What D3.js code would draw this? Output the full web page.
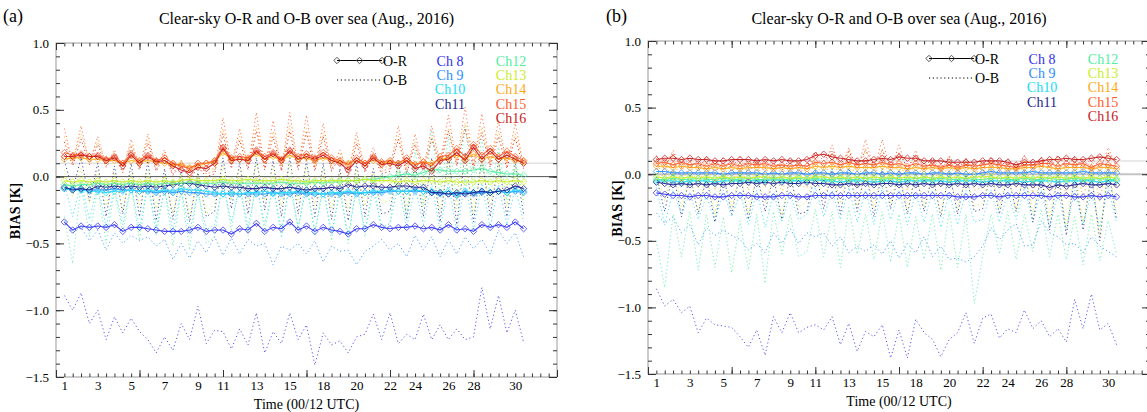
<!DOCTYPE html>
<html>
<head>
<meta charset="utf-8">
<script src="https://cdn.jsdelivr.net/npm/d3@7"></script>
<style>
body { margin: 0; background: #fff; }
svg { display: block; }
text { font-family: "Liberation Serif", "Times New Roman", serif; }
</style>
</head>
<body>
<div id="chart"></div>
<script>
let width = 1147
let height = 412

// x positions: 56 analysis times (00/12 UTC), some days missing
let timeIndex = d3.range(56)
let tickIndex = [0, 4, 8, 12, 16, 19, 23, 27, 31, 35, 39, 42, 46, 49, 54]
let tickLabels = ["1", "3", "5", "7", "9", "11", "13", "15", "18", "20", "22", "24", "26", "28", "30"]
let yTicks = [-1.5, -1.0, -0.5, 0.0, 0.5, 1.0]

let channels = ["Ch 8", "Ch 9", "Ch10", "Ch11", "Ch12", "Ch13", "Ch14", "Ch15", "Ch16"]
let channelColors = ["#3030f0", "#2a8cff", "#20dcf8", "#1c1c8c", "#50eea0", "#c8ee28", "#ffa812", "#ff5828", "#c81818"]

// ---- panel (a): O-R ----
let a_or_8 = [-0.34,-0.40,-0.37,-0.38,-0.37,-0.38,-0.36,-0.41,-0.38,-0.38,
	-0.39,-0.40,-0.41,-0.41,-0.41,-0.40,-0.38,-0.41,-0.40,-0.40,
	-0.43,-0.39,-0.40,-0.35,-0.41,-0.38,-0.39,-0.34,-0.40,-0.37,
	-0.41,-0.38,-0.40,-0.41,-0.43,-0.39,-0.39,-0.36,-0.38,-0.39,
	-0.38,-0.38,-0.37,-0.39,-0.38,-0.40,-0.36,-0.40,-0.39,-0.41,
	-0.36,-0.38,-0.36,-0.38,-0.34,-0.39]
let a_or_9 = [-0.09,-0.09,-0.10,-0.10,-0.10,-0.10,-0.09,-0.10,-0.10,-0.11,
	-0.11,-0.12,-0.11,-0.12,-0.11,-0.12,-0.12,-0.13,-0.13,-0.13,
	-0.13,-0.13,-0.13,-0.13,-0.13,-0.12,-0.13,-0.13,-0.12,-0.13,
	-0.13,-0.13,-0.13,-0.13,-0.12,-0.13,-0.12,-0.12,-0.12,-0.11,
	-0.11,-0.11,-0.11,-0.11,-0.12,-0.13,-0.13,-0.14,-0.12,-0.13,
	-0.12,-0.12,-0.11,-0.12,-0.11,-0.12]
let a_or_10 = [-0.09,-0.10,-0.10,-0.11,-0.11,-0.12,-0.11,-0.11,-0.10,-0.11,
	-0.10,-0.11,-0.10,-0.11,-0.09,-0.10,-0.10,-0.11,-0.12,-0.13,
	-0.12,-0.13,-0.12,-0.12,-0.11,-0.13,-0.12,-0.12,-0.11,-0.12,
	-0.12,-0.13,-0.12,-0.12,-0.11,-0.12,-0.12,-0.11,-0.11,-0.10,
	-0.11,-0.11,-0.10,-0.11,-0.11,-0.12,-0.11,-0.13,-0.11,-0.12,
	-0.11,-0.12,-0.11,-0.12,-0.10,-0.11]
let a_or_11 = [-0.08,-0.10,-0.09,-0.10,-0.07,-0.08,-0.07,-0.08,-0.07,-0.08,
	-0.07,-0.08,-0.07,-0.06,-0.05,-0.05,-0.06,-0.07,-0.08,-0.07,
	-0.08,-0.08,-0.09,-0.09,-0.08,-0.09,-0.09,-0.08,-0.09,-0.10,
	-0.09,-0.09,-0.08,-0.09,-0.06,-0.08,-0.07,-0.07,-0.08,-0.08,
	-0.07,-0.07,-0.08,-0.08,-0.12,-0.12,-0.13,-0.12,-0.13,-0.12,
	-0.11,-0.12,-0.11,-0.10,-0.07,-0.09]
let a_or_12 = [-0.06,-0.07,-0.06,-0.06,-0.05,-0.06,-0.05,-0.06,-0.05,-0.06,
	-0.05,-0.06,-0.05,-0.05,-0.05,-0.04,-0.05,-0.05,-0.05,-0.04,
	-0.05,-0.05,-0.05,-0.05,-0.05,-0.05,-0.04,-0.05,-0.05,-0.05,
	-0.04,-0.05,-0.04,-0.04,-0.03,-0.03,-0.02,-0.02,-0.01,0.00,
	0.01,0.02,0.01,0.03,0.05,0.05,0.04,0.04,0.04,0.05,
	0.06,0.04,0.03,0.02,0.02,0.01]
let a_or_13 = [-0.03,-0.04,-0.03,-0.04,-0.03,-0.04,-0.03,-0.04,-0.03,-0.04,
	-0.03,-0.04,-0.03,-0.04,-0.03,-0.02,-0.03,-0.03,-0.03,-0.02,
	-0.03,-0.03,-0.02,-0.03,-0.03,-0.03,-0.02,-0.03,-0.03,-0.04,
	-0.03,-0.03,-0.03,-0.03,-0.03,-0.03,-0.02,-0.03,-0.03,-0.03,
	-0.04,-0.03,-0.04,-0.03,-0.03,-0.04,-0.03,-0.04,-0.04,-0.04,
	-0.03,-0.04,-0.03,-0.04,-0.03,-0.04]
let a_or_14 = [0.13,0.14,0.14,0.13,0.13,0.12,0.12,0.10,0.12,0.11,
	0.12,0.11,0.10,0.09,0.09,0.07,0.08,0.10,0.11,0.18,
	0.13,0.13,0.13,0.17,0.13,0.15,0.12,0.16,0.13,0.14,
	0.12,0.14,0.12,0.11,0.10,0.12,0.10,0.12,0.10,0.11,
	0.10,0.12,0.09,0.11,0.10,0.13,0.14,0.16,0.13,0.17,
	0.13,0.15,0.13,0.14,0.12,0.11]
let a_or_15 = [0.18,0.16,0.17,0.15,0.16,0.13,0.15,0.10,0.17,0.12,
	0.16,0.12,0.14,0.10,0.08,0.06,0.10,0.10,0.12,0.22,
	0.14,0.15,0.14,0.20,0.15,0.18,0.13,0.20,0.15,0.17,
	0.14,0.18,0.14,0.12,0.09,0.14,0.10,0.15,0.11,0.12,
	0.10,0.14,0.09,0.11,0.08,0.15,0.16,0.21,0.15,0.24,
	0.16,0.21,0.15,0.19,0.15,0.12]
let a_or_16 = [0.15,0.15,0.16,0.15,0.15,0.12,0.14,0.08,0.16,0.10,
	0.15,0.11,0.12,0.08,0.05,0.03,0.07,0.06,0.10,0.21,
	0.12,0.13,0.12,0.19,0.13,0.17,0.12,0.19,0.13,0.15,
	0.13,0.16,0.12,0.10,0.05,0.12,0.08,0.14,0.09,0.10,
	0.08,0.12,0.06,0.08,0.04,0.12,0.13,0.18,0.12,0.22,
	0.13,0.19,0.13,0.16,0.13,0.10]

// ---- panel (a): O-B ----
let a_ob_8 = [-0.89,-1.00,-0.87,-1.10,-1.00,-1.22,-1.05,-1.17,-1.06,-1.16,
	-1.22,-1.32,-1.20,-1.30,-1.10,-1.22,-0.97,-1.25,-1.15,-1.16,
	-1.29,-1.14,-1.26,-1.02,-1.32,-1.16,-1.25,-1.02,-1.22,-1.11,
	-1.41,-1.17,-1.26,-1.23,-1.32,-1.20,-1.18,-1.03,-1.22,-1.02,
	-1.25,-1.18,-1.22,-1.03,-1.22,-1.11,-1.22,-1.14,-1.22,-1.20,
	-0.83,-1.14,-0.89,-1.17,-1.00,-1.24]
let a_ob_9 = [-0.33,-0.42,-0.38,-0.48,-0.40,-0.55,-0.42,-0.50,-0.44,-0.48,
	-0.45,-0.52,-0.47,-0.62,-0.50,-0.61,-0.48,-0.57,-0.45,-0.59,
	-0.46,-0.58,-0.47,-0.52,-0.50,-0.66,-0.52,-0.55,-0.50,-0.58,
	-0.48,-0.64,-0.52,-0.56,-0.55,-0.66,-0.56,-0.52,-0.47,-0.55,
	-0.50,-0.60,-0.44,-0.55,-0.45,-0.60,-0.47,-0.58,-0.45,-0.54,
	-0.47,-0.58,-0.40,-0.50,-0.42,-0.60]
let a_ob_10 = [-0.05,-0.30,-0.04,-0.32,-0.06,-0.38,-0.08,-0.36,-0.06,-0.40,
	-0.05,-0.38,-0.10,-0.40,-0.10,-0.42,-0.12,-0.40,-0.36,-0.05,
	-0.34,-0.08,-0.38,-0.06,-0.36,-0.08,-0.40,-0.06,-0.38,-0.08,
	-0.40,-0.10,-0.42,-0.12,-0.44,-0.08,-0.40,-0.10,-0.38,-0.35,
	-0.06,-0.38,-0.08,-0.36,-0.05,-0.40,-0.04,-0.42,-0.02,-0.40,
	-0.05,-0.38,-0.06,-0.36,-0.08,-0.34]
let a_ob_11 = [0.12,-0.10,0.14,-0.18,0.10,-0.30,0.08,-0.28,0.10,-0.30,
	0.12,-0.33,0.06,-0.32,0.04,-0.34,0.03,-0.30,-0.26,0.14,
	-0.24,0.10,-0.28,0.14,-0.25,0.12,-0.30,0.14,-0.28,0.12,
	-0.30,0.10,-0.32,0.06,-0.33,0.10,-0.30,0.06,-0.28,-0.26,
	0.12,-0.32,0.10,-0.30,0.14,-0.34,0.16,-0.36,0.18,-0.34,
	0.14,-0.30,0.12,-0.30,0.10,-0.28]
let a_ob_12 = [-0.30,-0.65,-0.05,-0.45,-0.08,-0.50,-0.10,-0.42,-0.06,-0.48,
	-0.04,-0.44,-0.08,-0.52,-0.10,-0.55,-0.08,-0.50,-0.45,-0.02,
	-0.40,-0.04,-0.44,-0.02,-0.42,-0.04,-0.46,0.00,-0.40,-0.02,
	-0.44,-0.04,-0.48,-0.06,-0.50,-0.02,-0.45,-0.04,-0.40,-0.35,
	0.12,-0.30,0.20,-0.20,0.35,-0.15,0.30,-0.18,0.38,-0.12,
	0.28,-0.15,0.22,-0.18,0.15,-0.20]
let a_ob_13 = [0.05,-0.15,0.06,-0.20,0.04,-0.22,0.03,-0.25,0.04,-0.22,
	0.05,-0.24,0.02,-0.28,0.02,-0.30,0.01,-0.28,-0.20,0.08,
	-0.18,0.06,-0.20,0.10,-0.18,0.08,-0.22,0.10,-0.20,0.08,
	-0.22,0.06,-0.24,0.03,-0.26,0.06,-0.22,0.03,-0.20,-0.18,
	0.08,-0.24,0.06,-0.22,0.10,-0.26,0.14,-0.24,0.16,-0.28,
	0.12,-0.22,0.10,-0.22,0.08,-0.18]
let a_ob_14 = [0.30,0.12,0.32,0.12,0.26,0.10,0.18,0.08,0.24,0.09,
	0.27,0.08,0.18,0.06,0.12,0.04,0.10,0.05,0.06,0.36,
	0.10,0.30,0.09,0.38,0.09,0.34,0.08,0.38,0.09,0.36,
	0.08,0.33,0.08,0.18,0.05,0.28,0.07,0.18,0.06,0.08,
	0.30,0.06,0.26,0.07,0.30,0.11,0.36,0.11,0.40,0.10,
	0.37,0.10,0.34,0.10,0.32,0.10]
let a_ob_15 = [0.36,0.10,0.38,0.10,0.30,0.08,0.20,0.04,0.28,0.06,
	0.32,0.05,0.20,0.02,0.12,-0.01,0.10,0.02,0.04,0.44,
	0.08,0.36,0.07,0.48,0.06,0.42,0.05,0.48,0.07,0.46,
	0.06,0.40,0.05,0.20,0.02,0.33,0.05,0.22,0.04,0.06,
	0.38,0.03,0.32,0.05,0.38,0.10,0.46,0.10,0.52,0.08,
	0.47,0.09,0.42,0.08,0.40,0.08]
let a_ob_16 = [0.26,0.08,0.28,0.09,0.24,0.07,0.16,0.03,0.22,0.05,
	0.25,0.04,0.16,0.01,0.09,-0.02,0.07,0.00,0.02,0.32,
	0.06,0.27,0.05,0.34,0.05,0.30,0.04,0.34,0.05,0.33,
	0.04,0.30,0.04,0.15,0.00,0.25,0.03,0.16,0.02,0.04,
	0.28,0.02,0.24,0.03,0.28,0.08,0.34,0.08,0.36,0.06,
	0.33,0.07,0.30,0.06,0.29,0.06]

// ---- panel (b): O-R ----
let b_or_8 = [-0.14,-0.15,-0.16,-0.16,-0.17,-0.16,-0.16,-0.17,-0.17,-0.16,
	-0.16,-0.16,-0.17,-0.17,-0.17,-0.16,-0.16,-0.17,-0.17,-0.16,
	-0.16,-0.16,-0.16,-0.16,-0.16,-0.16,-0.16,-0.16,-0.16,-0.16,
	-0.16,-0.16,-0.16,-0.16,-0.16,-0.16,-0.17,-0.17,-0.17,-0.16,
	-0.16,-0.17,-0.16,-0.16,-0.16,-0.16,-0.16,-0.17,-0.16,-0.16,
	-0.17,-0.17,-0.16,-0.17,-0.16,-0.17]
let b_or_9 = [0.02,0.02,0.01,0.01,0.01,0.01,0.01,0.01,0.00,0.01,
	0.01,0.01,0.01,0.00,0.01,0.00,0.01,0.01,0.00,0.01,
	0.01,0.00,0.01,0.01,0.00,0.01,0.01,0.00,0.01,0.00,
	0.01,0.01,0.00,0.01,0.01,0.00,0.01,0.00,0.00,0.01,
	0.02,0.01,0.01,0.01,0.01,0.02,0.01,0.01,0.01,0.01,
	0.01,0.02,0.01,0.01,0.01,0.01]
let b_or_10 = [-0.05,-0.05,-0.05,-0.06,-0.05,-0.05,-0.05,-0.06,-0.05,-0.05,
	-0.05,-0.05,-0.05,-0.05,-0.04,-0.05,-0.05,-0.05,-0.05,-0.04,
	-0.05,-0.05,-0.06,-0.05,-0.05,-0.05,-0.06,-0.05,-0.05,-0.06,
	-0.05,-0.05,-0.05,-0.05,-0.05,-0.06,-0.05,-0.05,-0.05,-0.06,
	-0.05,-0.05,-0.05,-0.05,-0.06,-0.05,-0.05,-0.05,-0.06,-0.05,
	-0.05,-0.05,-0.05,-0.06,-0.05,-0.05]
let b_or_11 = [-0.06,-0.07,-0.08,-0.07,-0.08,-0.07,-0.08,-0.07,-0.08,-0.07,
	-0.07,-0.06,-0.07,-0.06,-0.07,-0.06,-0.07,-0.07,-0.06,-0.07,
	-0.07,-0.08,-0.08,-0.07,-0.08,-0.07,-0.08,-0.07,-0.07,-0.08,
	-0.07,-0.08,-0.07,-0.08,-0.07,-0.08,-0.07,-0.08,-0.07,-0.08,
	-0.07,-0.08,-0.08,-0.07,-0.08,-0.08,-0.08,-0.10,-0.08,-0.09,
	-0.08,-0.07,-0.08,-0.08,-0.07,-0.08]
let b_or_12 = [-0.04,-0.04,-0.03,-0.04,-0.04,-0.03,-0.04,-0.04,-0.03,-0.04,
	-0.04,-0.03,-0.04,-0.04,-0.03,-0.04,-0.04,-0.03,-0.04,-0.03,
	-0.04,-0.04,-0.03,-0.04,-0.04,-0.03,-0.04,-0.04,-0.03,-0.04,
	-0.04,-0.03,-0.04,-0.04,-0.03,-0.04,-0.04,-0.03,-0.04,-0.04,
	-0.03,-0.03,-0.04,-0.04,-0.03,-0.04,-0.04,-0.03,-0.04,-0.04,
	-0.03,-0.04,-0.04,-0.03,-0.04,-0.04]
let b_or_13 = [-0.02,-0.03,-0.02,-0.03,-0.02,-0.03,-0.02,-0.03,-0.02,-0.03,
	-0.02,-0.03,-0.02,-0.02,-0.03,-0.02,-0.03,-0.02,-0.03,-0.02,
	-0.02,-0.03,-0.02,-0.03,-0.02,-0.03,-0.02,-0.03,-0.02,-0.03,
	-0.02,-0.03,-0.02,-0.03,-0.02,-0.03,-0.02,-0.03,-0.02,-0.02,
	-0.02,-0.03,-0.02,-0.03,-0.02,-0.03,-0.02,-0.03,-0.02,-0.03,
	-0.02,-0.03,-0.02,-0.03,-0.02,-0.03]
let b_or_14 = [0.06,0.06,0.05,0.06,0.05,0.05,0.04,0.05,0.04,0.05,
	0.04,0.05,0.05,0.05,0.04,0.05,0.04,0.05,0.04,0.06,
	0.05,0.06,0.05,0.06,0.05,0.05,0.05,0.06,0.05,0.05,
	0.04,0.05,0.04,0.05,0.04,0.05,0.04,0.05,0.04,0.05,
	0.05,0.05,0.04,0.04,0.05,0.05,0.06,0.05,0.04,0.05,
	0.05,0.05,0.04,0.05,0.05,0.04]
let b_or_15 = [0.08,0.09,0.07,0.09,0.07,0.08,0.06,0.08,0.06,0.08,
	0.06,0.08,0.07,0.08,0.06,0.07,0.06,0.07,0.06,0.09,
	0.08,0.09,0.07,0.09,0.07,0.08,0.07,0.09,0.07,0.08,
	0.06,0.08,0.06,0.07,0.05,0.07,0.05,0.07,0.06,0.07,
	0.08,0.07,0.06,0.05,0.07,0.07,0.08,0.08,0.06,0.08,
	0.07,0.08,0.05,0.08,0.07,0.06]
let b_or_16 = [0.11,0.12,0.12,0.11,0.12,0.11,0.11,0.10,0.10,0.11,
	0.11,0.11,0.10,0.11,0.10,0.11,0.10,0.10,0.11,0.14,
	0.15,0.13,0.12,0.11,0.10,0.10,0.11,0.12,0.11,0.13,
	0.12,0.12,0.10,0.10,0.10,0.09,0.09,0.09,0.09,0.10,
	0.10,0.10,0.09,0.07,0.09,0.09,0.10,0.11,0.11,0.12,
	0.11,0.11,0.12,0.13,0.12,0.11]

// ---- panel (b): O-B ----
let b_ob_8 = [-0.86,-0.99,-0.94,-1.04,-0.99,-1.19,-1.08,-1.13,-1.14,-1.15,
	-1.22,-1.30,-1.17,-1.36,-1.07,-1.19,-1.04,-1.19,-1.15,-1.13,
	-1.17,-1.07,-1.28,-1.12,-1.33,-1.18,-1.22,-1.13,-1.38,-1.17,
	-1.38,-1.09,-1.19,-1.24,-1.37,-1.24,-1.19,-1.04,-1.27,-1.08,
	-1.05,-1.23,-1.16,-1.19,-1.02,-1.16,-1.10,-1.22,-1.16,-1.26,
	-0.94,-1.16,-0.90,-1.17,-1.12,-1.28]
let b_ob_9 = [-0.29,-0.37,-0.32,-0.44,-0.38,-0.53,-0.40,-0.46,-0.42,-0.46,
	-0.49,-0.57,-0.52,-0.59,-0.44,-0.52,-0.41,-0.52,-0.44,-0.47,
	-0.44,-0.54,-0.47,-0.59,-0.54,-0.58,-0.53,-0.60,-0.50,-0.63,
	-0.52,-0.59,-0.47,-0.62,-0.54,-0.64,-0.63,-0.66,-0.62,-0.54,
	-0.40,-0.49,-0.42,-0.37,-0.54,-0.53,-0.35,-0.44,-0.47,-0.53,
	-0.52,-0.59,-0.47,-0.54,-0.58,-0.62]
let b_ob_10 = [-0.10,-0.38,-0.12,-0.30,-0.14,-0.34,-0.16,-0.36,-0.12,-0.32,
	-0.14,-0.38,-0.12,-0.40,-0.14,-0.36,-0.15,-0.34,-0.30,-0.10,
	-0.32,-0.12,-0.34,-0.10,-0.36,-0.12,-0.38,-0.10,-0.34,-0.12,
	-0.38,-0.14,-0.36,-0.12,-0.40,-0.14,-0.38,-0.12,-0.36,-0.34,
	-0.12,-0.36,-0.14,-0.34,-0.10,-0.36,-0.12,-0.40,-0.14,-0.42,
	-0.12,-0.38,-0.14,-0.40,-0.10,-0.36]
let b_ob_11 = [-0.02,-0.28,0.02,-0.32,0.00,-0.30,-0.02,-0.36,0.00,-0.30,
	0.01,-0.34,0.00,-0.28,-0.02,-0.34,0.00,-0.30,-0.28,0.03,
	-0.26,0.04,-0.30,0.06,-0.28,0.04,-0.32,0.04,-0.26,0.02,
	-0.30,0.01,-0.28,0.00,-0.32,0.02,-0.30,0.00,-0.28,-0.26,
	0.02,-0.30,0.00,-0.28,0.03,-0.36,0.00,-0.42,0.02,-0.46,
	0.00,-0.42,0.00,-0.50,0.04,-0.34]
let b_ob_12 = [-0.50,-0.85,-0.30,-0.62,-0.28,-0.72,-0.30,-0.70,-0.32,-0.74,
	-0.35,-0.72,-0.30,-0.82,-0.28,-0.60,-0.30,-0.62,-0.58,-0.26,
	-0.62,-0.28,-0.70,-0.25,-0.60,-0.30,-0.64,-0.28,-0.66,-0.30,
	-0.70,-0.32,-0.64,-0.30,-0.72,-0.28,-0.70,-0.30,-0.97,-0.62,
	-0.30,-0.60,-0.28,-0.64,-0.30,-0.58,-0.26,-0.62,-0.30,-0.64,
	-0.32,-0.68,-0.30,-0.65,-0.35,-0.60]
let b_ob_13 = [0.00,-0.20,0.04,-0.25,0.00,-0.28,0.01,-0.30,0.00,-0.26,
	0.02,-0.30,0.00,-0.22,-0.01,-0.32,0.00,-0.25,-0.20,0.05,
	-0.18,0.06,-0.22,0.08,-0.24,0.06,-0.26,0.06,-0.22,0.04,
	-0.28,0.03,-0.24,0.00,-0.30,0.02,-0.26,0.00,-0.24,-0.22,
	0.04,-0.26,0.03,-0.28,0.06,-0.30,0.02,-0.34,0.04,-0.40,
	0.02,-0.36,0.01,-0.46,0.08,-0.30]
let b_ob_14 = [0.10,-0.06,0.14,-0.08,0.08,-0.10,0.10,-0.12,0.08,-0.08,
	0.09,-0.12,0.08,-0.10,0.06,-0.14,0.07,-0.08,-0.10,0.12,
	-0.06,0.16,-0.08,0.18,-0.10,0.20,-0.06,0.19,-0.08,0.16,
	-0.12,0.14,-0.08,0.08,-0.10,0.11,-0.08,0.10,-0.12,-0.10,
	0.10,-0.08,0.08,-0.10,0.11,-0.14,0.10,-0.12,0.11,-0.16,
	0.10,-0.18,0.08,-0.20,0.16,-0.10]
let b_ob_15 = [0.12,0.04,0.18,0.03,0.10,0.02,0.12,0.01,0.10,0.02,
	0.12,0.00,0.10,0.01,0.08,0.00,0.09,0.02,0.03,0.16,
	0.04,0.22,0.03,0.20,0.02,0.26,0.04,0.26,0.03,0.22,
	0.02,0.18,0.03,0.10,0.02,0.14,0.03,0.12,0.02,0.01,
	0.12,0.02,0.10,0.03,0.14,0.02,0.12,0.03,0.14,0.04,
	0.12,0.03,0.10,0.02,0.20,0.05]
let b_ob_16 = [0.14,0.06,0.16,0.05,0.12,0.04,0.13,0.04,0.12,0.05,
	0.13,0.04,0.12,0.04,0.11,0.03,0.12,0.05,0.06,0.17,
	0.10,0.18,0.07,0.17,0.06,0.18,0.07,0.18,0.06,0.16,
	0.05,0.14,0.05,0.12,0.04,0.13,0.05,0.12,0.04,0.04,
	0.13,0.04,0.12,0.05,0.14,0.04,0.13,0.05,0.14,0.06,
	0.13,0.05,0.12,0.05,0.16,0.07]

let panelA_OR = [a_or_8, a_or_9, a_or_10, a_or_11, a_or_12, a_or_13, a_or_14, a_or_15, a_or_16]
let panelA_OB = [a_ob_8, a_ob_9, a_ob_10, a_ob_11, a_ob_12, a_ob_13, a_ob_14, a_ob_15, a_ob_16]
let panelB_OR = [b_or_8, b_or_9, b_or_10, b_or_11, b_or_12, b_or_13, b_or_14, b_or_15, b_or_16]
let panelB_OB = [b_ob_8, b_ob_9, b_ob_10, b_ob_11, b_ob_12, b_ob_13, b_ob_14, b_ob_15, b_ob_16]

let titleText = "Clear-sky O-R and O-B over sea (Aug., 2016)"

let panels = [
	{ name: "(a)", or: panelA_OR, ob: panelA_OB, left: 56, right: 557, top: 43, bottom: 377,
		nameX: 3, yTitleX: 20, zeroColor: "#555", zeroWidth: 1 },
	{ name: "(b)", or: panelB_OR, ob: panelB_OB, left: 648, right: 1150, top: 41, bottom: 374,
		nameX: 606, yTitleX: 622, zeroColor: "#c4c4c4", zeroWidth: 2 }
]

let svg = d3.select("#chart")
	.append("svg")
	.attr("width", width)
	.attr("height", height)

let diamond = "M0,-3.2L3.2,0L0,3.2L-3.2,0Z"

let drawPanel = function(p, k) {
	let x = d3.scaleLinear().domain([-1, 59]).range([p.left, p.right])
	let y = d3.scaleLinear().domain([-1.5, 1.0]).range([p.bottom, p.top])
	let g = svg.append("g")

	svg.append("clipPath")
		.attr("id", "clip" + k)
		.append("rect")
		.attr("x", p.left).attr("y", p.top)
		.attr("width", p.right - p.left).attr("height", p.bottom - p.top)

	let plot = g.append("g").attr("clip-path", "url(#clip" + k + ")")

	// faint reference line and zero line
	plot.append("line")
		.attr("x1", p.left).attr("x2", p.right)
		.attr("y1", y(0.1)).attr("y2", y(0.1))
		.attr("stroke", "#e2e2e2").attr("stroke-width", 1.5)
	plot.append("line")
		.attr("x1", p.left).attr("x2", p.right)
		.attr("y1", y(0)).attr("y2", y(0))
		.attr("stroke", p.zeroColor).attr("stroke-width", p.zeroWidth)

	let line = d3.line()
		.x((d, i) => x(timeIndex[i]))
		.y(d => y(d))

	// O-B dotted lines
	plot.selectAll(".ob")
		.data(p.ob)
		.enter()
		.append("path")
		.attr("class", "ob")
		.attr("d", d => line(d))
		.attr("fill", "none")
		.attr("stroke", (d, i) => channelColors[i])
		.attr("stroke-width", 1)
		.attr("stroke-dasharray", "1.2,2.6")
		.attr("opacity", 0.8)

	// O-R solid lines with diamonds
	p.or.forEach((series, c) => {
		plot.append("path")
			.attr("d", line(series))
			.attr("fill", "none")
			.attr("stroke", channelColors[c])
			.attr("stroke-width", 1.1)
			.attr("opacity", 0.9)
		plot.selectAll(".m" + c)
			.data(series)
			.enter()
			.append("path")
			.attr("class", "m" + c)
			.attr("d", diamond)
			.attr("transform", (d, i) => "translate(" + x(timeIndex[i]) + "," + y(d) + ")")
			.attr("fill", "none")
			.attr("stroke", channelColors[c])
			.attr("stroke-width", 1)
			.attr("opacity", 0.75)
	})

	// frame
	g.append("rect")
		.attr("x", p.left).attr("y", p.top)
		.attr("width", p.right - p.left).attr("height", p.bottom - p.top)
		.attr("fill", "none").attr("stroke", "#9a9a9a").attr("stroke-width", 1)

	let styleAxis = a => {
		a.select(".domain").remove()
		a.selectAll(".tick line").attr("stroke", "#333")
		a.attr("font-family", "Liberation Serif").attr("font-size", 13)
		a.selectAll(".tick text").attr("fill", "#000")
	}

	let minorX = d3.range(-1, 60)
	let majorX = d3.range(-1, 60, 10)
	let minorY = d3.range(-15, 11).map(v => v / 10)

	g.append("g").attr("transform", "translate(0," + p.bottom + ")")
		.call(d3.axisBottom(x).tickValues(minorX).tickSize(-3.5).tickFormat(""))
		.call(styleAxis)
	g.append("g").attr("transform", "translate(0," + p.bottom + ")")
		.call(d3.axisBottom(x).tickValues(majorX).tickSize(-7).tickFormat(""))
		.call(styleAxis)
	g.append("g").attr("transform", "translate(0," + p.bottom + ")")
		.call(d3.axisBottom(x).tickValues(tickIndex).tickSize(0).tickPadding(4)
			.tickFormat((d, i) => tickLabels[i]))
		.call(styleAxis)
	g.append("g").attr("transform", "translate(0," + p.top + ")")
		.call(d3.axisTop(x).tickValues(minorX).tickSize(-3.5).tickFormat(""))
		.call(styleAxis)
	g.append("g").attr("transform", "translate(0," + p.top + ")")
		.call(d3.axisTop(x).tickValues(majorX).tickSize(-7).tickFormat(""))
		.call(styleAxis)

	g.append("g").attr("transform", "translate(" + p.left + ",0)")
		.call(d3.axisLeft(y).tickValues(minorY).tickSize(-4).tickFormat(""))
		.call(styleAxis)
	g.append("g").attr("transform", "translate(" + p.left + ",0)")
		.call(d3.axisLeft(y).tickValues(yTicks).tickSize(-8).tickPadding(7)
			.tickFormat(d3.format(".1f")))
		.call(styleAxis)
	g.append("g").attr("transform", "translate(" + p.right + ",0)")
		.call(d3.axisRight(y).tickValues(minorY).tickSize(-4).tickFormat(""))
		.call(styleAxis)
	g.append("g").attr("transform", "translate(" + p.right + ",0)")
		.call(d3.axisRight(y).tickValues(yTicks).tickSize(-8).tickFormat(""))
		.call(styleAxis)

	// titles
	let cx = (p.left + p.right) / 2
	g.append("text").text(titleText)
		.attr("x", cx).attr("y", 24)
		.attr("text-anchor", "middle").attr("font-size", 16)
	g.append("text").text(p.name)
		.attr("x", p.nameX).attr("y", 22)
		.attr("font-size", 18)
	g.append("text").text("Time (00/12 UTC)")
		.attr("x", cx).attr("y", p.bottom + 32)
		.attr("text-anchor", "middle").attr("font-size", 14)
	g.append("text").text("BIAS [K]")
		.attr("transform", "translate(" + p.yTitleX + "," + ((p.top + p.bottom) / 2 + 1) + ") rotate(-90)")
		.attr("text-anchor", "middle").attr("font-size", 14).attr("font-weight", "bold")

	// legend: line styles
	let lx0 = p.left + 281
	let lx1 = p.left + 326
	let ry = p.top + 17.5
	let by = p.top + 37
	g.append("line").attr("x1", lx0).attr("x2", lx1).attr("y1", ry).attr("y2", ry)
		.attr("stroke", "#000").attr("stroke-width", 1.1)
	g.selectAll(".legmark")
		.data([lx0, (lx0 + lx1) / 2, lx1])
		.enter()
		.append("path")
		.attr("d", diamond)
		.attr("transform", d => "translate(" + d + "," + ry + ")")
		.attr("fill", "none").attr("stroke", "#555")
	g.append("text").text("O-R").attr("x", lx1 + 1).attr("y", ry + 5).attr("font-size", 14)
	g.append("line").attr("x1", lx0).attr("x2", lx1).attr("y1", by).attr("y2", by)
		.attr("stroke", "#000").attr("stroke-width", 1).attr("stroke-dasharray", "1.2,2.6")
	g.append("text").text("O-B").attr("x", lx1 + 1).attr("y", by + 5).attr("font-size", 14)

	// legend: channel names
	g.selectAll(".chname")
		.data(channels)
		.enter()
		.append("text")
		.attr("class", "chname")
		.text(d => d)
		.attr("x", (d, i) => p.left + (i < 4 ? 394 : 455))
		.attr("y", (d, i) => p.top + 22.5 + (i < 4 ? i : i - 4) * 14.4)
		.attr("text-anchor", "middle")
		.attr("font-size", 14)
		.attr("fill", (d, i) => channelColors[i])
}

panels.forEach((p, k) => drawPanel(p, k))
</script>
</body>
</html>
